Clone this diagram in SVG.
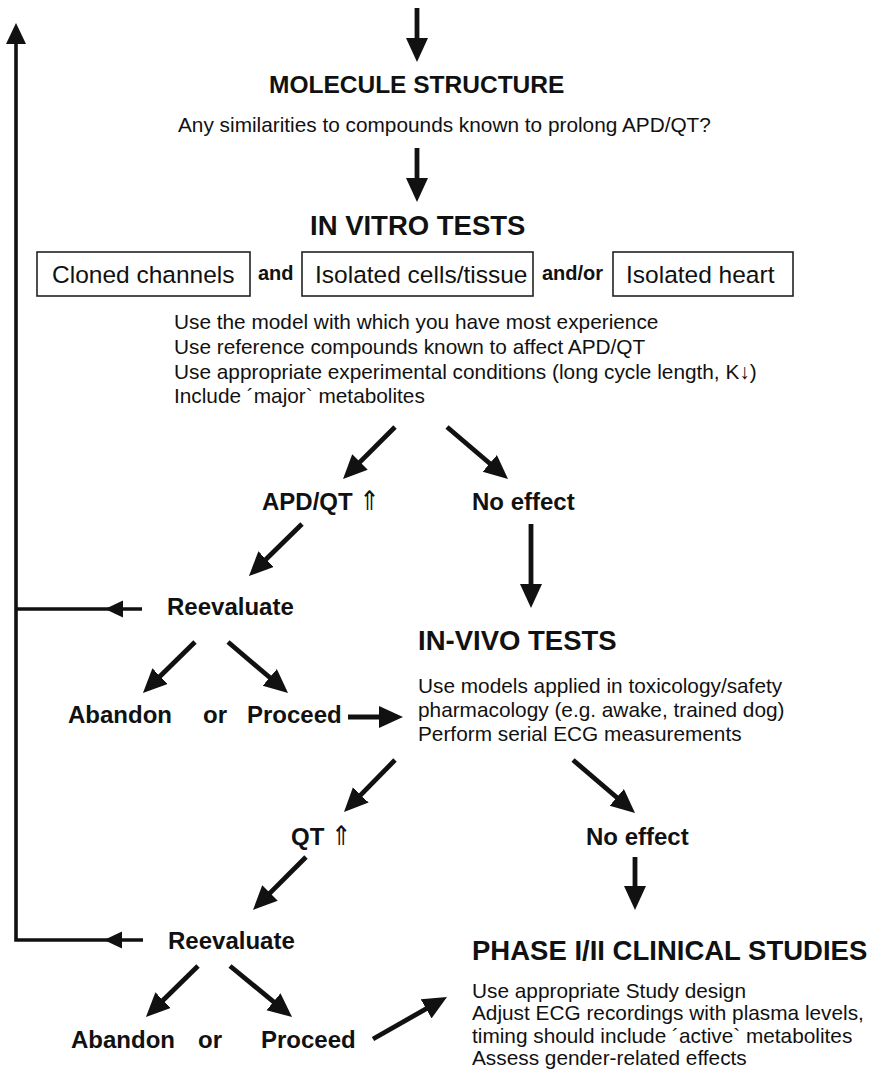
<svg xmlns="http://www.w3.org/2000/svg" width="874" height="1079" viewBox="0 0 874 1079">
<style>
text{font-family:"Liberation Sans",Arial,sans-serif;fill:#111}
.h1{font-size:24.5px;font-weight:bold}
.h2{font-size:27.5px;font-weight:bold}
.lbl{font-size:24px;font-weight:bold}
.body{font-size:20.8px}
.box{font-size:24.5px}
.conj{font-size:20px;font-weight:bold}
.sym{font-family:"DejaVu Sans Condensed","DejaVu Sans",sans-serif;font-weight:normal;font-size:27px}
.bx{fill:#fff;stroke:#222;stroke-width:1.6}
.arr{stroke:#111;stroke-width:4.8;fill:none;marker-end:url(#ah)}
.fb{stroke:#111;stroke-width:3.6;fill:none}
.head{fill:#111}
</style>
<defs>
<marker id="ah" markerUnits="userSpaceOnUse" markerWidth="26" markerHeight="24" refX="14" refY="11" orient="auto">
<path d="M0,0 L24,11 L0,22 Z" fill="#111"/>
</marker>
</defs>
<rect width="874" height="1079" fill="#fff"/>

<g id="connectors">
<line class="arr" x1="417" y1="8" x2="417" y2="52"/>
<line class="arr" x1="417" y1="148" x2="417" y2="192"/>
<line class="arr" x1="395" y1="427" x2="350.1" y2="471.9"/>
<line class="arr" x1="447" y1="427" x2="500.4" y2="472.5"/>
<line class="arr" x1="302" y1="524" x2="256.1" y2="569"/>
<line class="arr" x1="531" y1="524" x2="531" y2="598"/>
<line class="arr" x1="195" y1="642" x2="150.1" y2="686"/>
<line class="arr" x1="228" y1="642" x2="280.4" y2="686.5"/>
<line class="arr" x1="348" y1="717" x2="393" y2="717"/>
<line class="arr" x1="395" y1="760" x2="351" y2="804.9"/>
<line class="arr" x1="573" y1="760" x2="627.4" y2="806.5"/>
<line class="arr" x1="306" y1="857" x2="260.1" y2="902.9"/>
<line class="arr" x1="635" y1="857" x2="635" y2="900"/>
<line class="arr" x1="198" y1="966" x2="153.1" y2="1010"/>
<line class="arr" x1="230" y1="966" x2="284.3" y2="1010.6"/>
<line class="arr" x1="373" y1="1039" x2="438.3" y2="1001.9"/>
<path class="fb" d="M143,940 H16 V40"/>
<polygon class="head" points="16,23 26,44 6,44"/>
<line class="fb" x1="142" y1="609" x2="16" y2="609"/>
<polygon class="head" points="105,609 123,600.5 123,617.5"/>
<polygon class="head" points="104,940 122,931.5 122,948.5"/>
</g>

<g id="molecule">
<text class="h1" x="269" y="93">MOLECULE STRUCTURE</text>
<text class="body" x="178" y="132" font-size="21">Any similarities to compounds known to prolong APD/QT?</text>
</g>

<g id="invitro">
<text class="h2" x="310" y="235">IN VITRO TESTS</text>
<rect class="bx" x="37" y="252" width="213" height="44"/>
<text class="box" x="52" y="283">Cloned channels</text>
<text class="conj" x="258" y="280">and</text>
<rect class="bx" x="302" y="252" width="231" height="44"/>
<text class="box" x="315" y="283">Isolated cells/tissue</text>
<text class="conj" x="542" y="280">and/or</text>
<rect class="bx" x="613" y="252" width="180" height="44"/>
<text class="box" x="626" y="283">Isolated heart</text>
<text class="body" x="174" y="329">Use the model with which you have most experience</text>
<text class="body" x="174" y="354">Use reference compounds known to affect APD/QT</text>
<text class="body" x="174" y="379">Use appropriate experimental conditions (long cycle length, K↓)</text>
<text class="body" x="174" y="403">Include ´major` metabolites</text>
</g>

<g id="apd">
<text class="lbl" x="262" y="510">APD/QT <tspan class="sym">⇑</tspan></text>
</g>
<g id="noeffect1">
<text class="lbl" x="472" y="510">No effect</text>
</g>

<g id="reevaluate1">
<text class="lbl" x="167" y="615">Reevaluate</text>
</g>
<g id="decision1">
<text class="lbl" x="68" y="723">Abandon</text>
<text class="lbl" x="203" y="723">or</text>
<text class="lbl" x="247" y="723">Proceed</text>
</g>

<g id="invivo">
<text class="h2" x="418" y="650">IN-VIVO TESTS</text>
<text class="body" x="418" y="693">Use models applied in toxicology/safety</text>
<text class="body" x="418" y="717">pharmacology (e.g. awake, trained dog)</text>
<text class="body" x="418" y="741">Perform serial ECG measurements</text>
</g>

<g id="qt">
<text class="lbl" x="291" y="845">QT <tspan class="sym">⇑</tspan></text>
</g>
<g id="noeffect2">
<text class="lbl" x="586" y="845">No effect</text>
</g>

<g id="reevaluate2">
<text class="lbl" x="168" y="949">Reevaluate</text>
</g>
<g id="decision2">
<text class="lbl" x="71" y="1048">Abandon</text>
<text class="lbl" x="198" y="1048">or</text>
<text class="lbl" x="261" y="1048">Proceed</text>
</g>

<g id="clinical">
<text class="h2" x="472" y="960">PHASE I/II CLINICAL STUDIES</text>
<text class="body" x="472" y="998">Use appropriate Study design</text>
<text class="body" x="472" y="1020">Adjust ECG recordings with plasma levels,</text>
<text class="body" x="472" y="1043">timing should include ´active` metabolites</text>
<text class="body" x="472" y="1065">Assess gender-related effects</text>
</g>
</svg>
